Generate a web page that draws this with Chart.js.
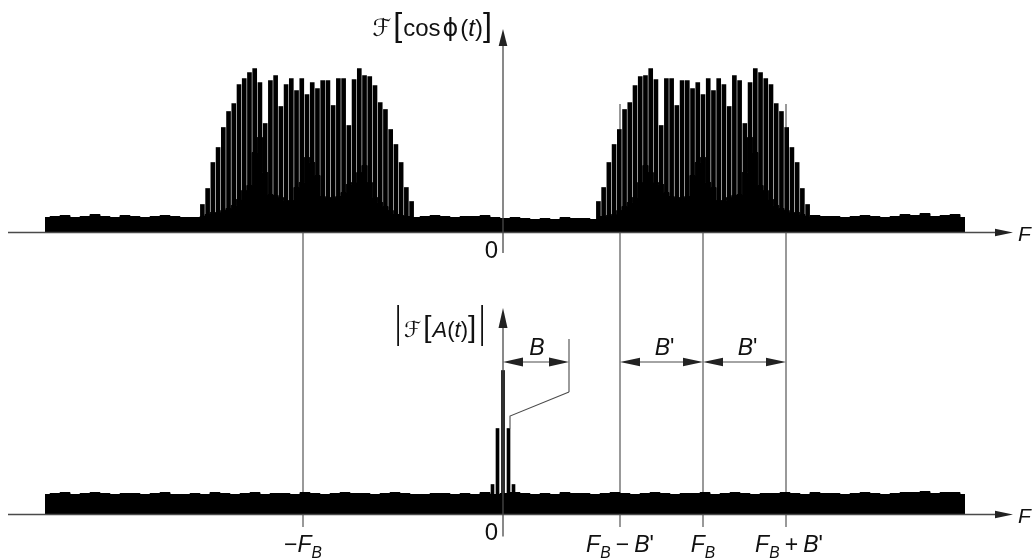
<!DOCTYPE html>
<html><head><meta charset="utf-8">
<script src="https://cdn.jsdelivr.net/npm/chart.js@4.4.1/dist/chart.umd.min.js"></script>
<style>
html,body{margin:0;padding:0;background:#fff;overflow:hidden;}
#wrap{position:relative;width:1034px;height:559px;}
canvas{position:absolute;left:0;}
#top{top:0;} #bot{top:262px;}
</style></head><body>
<div id="wrap"><canvas id="top" width="1034" height="262"></canvas><canvas id="bot" width="1034" height="297"></canvas></div>
<script>
// ---------- data ----------
const F_B = 100;          // carrier frequency
const B_PRIME = 41.5;     // half-width of the modulated band
const B_BASE = 33;        // baseband width of A(t)
const X_MIN = -251.5, X_MAX = 265.5;
const AXIS_FROM = -247.5, AXIS_TO = 255;

// positive-frequency lobe of |F[cos phi(t)]| (line spectrum), mirrored for negative frequencies
const lobeCenters = [-98, 100];
const spikeSpacing = 2.615;
const lobeHeights = [31,45,70,88,103,123,130,147,156,157,164,153,107,154,154,127,152,152,144,150,138,154,142,154,148,126,157,152,109,150,164,160,154,148,129,121,105,85,70,44,28];
const lobeFloor   = [16,16,17,18,22,26,30,35,50,67,60,50,48,40,36,35,35,36,57,70,75,50,45,32,32,35,37,38,60,95,80,47,42,33,27,24,22,20,20,18,16];

// noise floors
const noiseStart = -229, noiseStep = 5;
const topNoise = [15,16,17,15,16,18,16,15,17,16,15,16,17,16,15,15,16,18,16,15,16,17,15,16,16,15,17,16,15,16,
  17,16,16,15,17,18,16,15,16,17,16,15,16,16,17,15,14,15,14,13,14,13,15,14,14,13,14,15,16,15,
  16,17,16,15,16,16,17,15,16,17,16,15,16,16,17,16,15,17,16,16,15,16,17,16,15,16,18,17,19,16,17,18,15];
const botNoise = [20,21,22,20,21,22,21,20,21,21,20,21,22,20,20,21,20,22,21,20,21,22,20,21,21,20,22,21,20,21,
  22,21,21,20,21,22,21,20,20,21,21,20,21,20,22,20,21,22,21,20,21,20,22,21,21,20,21,22,21,20,
  21,22,21,20,21,21,22,20,21,22,21,20,21,21,22,21,20,22,21,21,20,21,22,21,20,21,22,22,23,21,22,22,20];

// baseband spectrum |F[A(t)]|
const basebandFreq = [-5.25, -2.75, 0, 2.75, 5.25];
const basebandHeights = [30, 86, 144, 86, 30];

// frequency markers and their tick labels
const markerValues = [-F_B, F_B - B_PRIME, F_B, F_B + B_PRIME];
const markerLabels = ['−F_B', "F_B − B'", 'F_B', "F_B + B'"];
const topTitle = 'ℱ[cosϕ(t)]';
const botTitle = '|ℱ[A(t)]|';

// ---------- helpers ----------
const INK = '#111', LINE = '#4a4a4a';
function mathTokens(ctx, str, size) {
  const toks = [];
  for (let i = 0; i < str.length; i++) {
    let ch = str[i], sub = false;
    if (ch === '_') { sub = true; ch = str[++i]; }
    let s = sub ? size * 0.68 : size;
    const italic = 'FBAt'.includes(ch);
    let family = '"Liberation Sans", "DejaVu Sans", sans-serif';
    let dy = sub ? size * 0.3 : 0, sy = 1, gap = 0, pre = 0;
    if (ch === 'ℱ') { family = '"DejaVu Sans"'; gap = 2; }
    if (ch === 'ϕ') { family = '"DejaVu Sans"'; gap = 2; pre = 2; }
    if (ch === '[' || ch === ']') { s = size * 1.35; gap = 1; }
    if (ch === '|') { sy = 2.0; gap = 3; pre = 2; }
    if (ch === ' ') { s = size * 0.8; }
    const font = (italic ? 'italic ' : '') + s.toFixed(1) + 'px ' + family;
    ctx.font = font;
    toks.push({ t: ch, font, dy, sy, pre, w: ctx.measureText(ch).width + gap + pre });
  }
  return toks;
}
function drawMath(ctx, str, x, y, size, align) {
  const toks = mathTokens(ctx, str, size);
  const total = toks.reduce((a, t) => a + t.w, 0);
  let cx = align === 'right' ? x - total : align === 'center' ? x - total / 2 : x;
  ctx.save();
  ctx.fillStyle = INK; ctx.textAlign = 'left'; ctx.textBaseline = 'alphabetic';
  toks.forEach(t => {
    ctx.font = t.font;
    if (t.sy !== 1) {
      ctx.save(); ctx.translate(cx + t.pre, y + t.dy); ctx.scale(1, t.sy);
      ctx.fillText(t.t, 0, 0); ctx.restore();
    } else {
      ctx.fillText(t.t, cx + t.pre, y + t.dy);
    }
    cx += t.w;
  });
  ctx.restore();
}
function seg(ctx, x1, y1, x2, y2) { ctx.beginPath(); ctx.moveTo(x1, y1); ctx.lineTo(x2, y2); ctx.stroke(); }
function arrow(ctx, tx, ty, dx, dy, len, half) {
  const bx = tx - dx * len, by = ty - dy * len;
  ctx.beginPath();
  ctx.moveTo(tx, ty);
  ctx.lineTo(bx - dy * half, by + dx * half);
  ctx.lineTo(bx + dy * half, by - dx * half);
  ctx.closePath(); ctx.fill();
}

// ---------- datasets ----------
const black = '#000';
function noiseData(arr) { return arr.map((h, i) => ({ x: noiseStart + i * noiseStep, y: h })); }
function lobeData(arr, c) {
  const sign = c < 0 ? -1 : 1;
  return arr.map((h, i) => ({ x: c + sign * (i - 20) * spikeSpacing, y: h }));
}
const lineDs = (data, stepped) => ({ type: 'line', data, borderColor: black, backgroundColor: black, borderWidth: 1,
  pointRadius: 0, fill: 'origin', tension: 0, stepped: stepped, order: 2 });

const topDatasets = [
  lineDs(noiseData(topNoise), 'middle'),
  ...lobeCenters.map(c => lineDs(lobeData(lobeFloor, c), 'middle')),
  { type: 'bar', data: lobeCenters.flatMap(c => lobeData(lobeHeights, c)), backgroundColor: black,
    borderWidth: 0, barThickness: 4, grouped: false, order: 1 }
];
const botDatasets = [
  lineDs(noiseData(botNoise), 'middle'),
  { type: 'bar', data: basebandFreq.map((f, i) => ({ x: f, y: basebandHeights[i] })), backgroundColor: black,
    borderWidth: 0, barThickness: 3, grouped: false, order: 1 }
];

function baseOptions(yMin, yMax) {
  return {
    responsive: false, animation: false, events: [],
    layout: { padding: 0 },
    plugins: { legend: { display: false }, tooltip: { enabled: false } },
    scales: {
      x: { type: 'linear', min: X_MIN, max: X_MAX, offset: false, display: false },
      y: { type: 'linear', min: yMin, max: yMax, display: false }
    }
  };
}

function drawAxis(ctx, x, base) {
  ctx.save();
  ctx.strokeStyle = LINE; ctx.fillStyle = '#222'; ctx.lineWidth = 1.3;
  const x0 = x.getPixelForValue(AXIS_FROM), x1 = x.getPixelForValue(AXIS_TO);
  seg(ctx, x0, base, x1 - 10, base);
  arrow(ctx, x1, base, 1, 0, 18, 3.8);
  ctx.restore();
  ctx.save(); ctx.fillStyle = INK; ctx.font = 'italic 21px "Liberation Sans", sans-serif';
  ctx.textAlign = 'left'; ctx.fillText('F', x1 + 5, base + 8); ctx.restore();
}

const topPlugin = {
  id: 'topAnno',
  beforeDatasetsDraw(chart) {
    const { ctx } = chart, x = chart.scales.x, y = chart.scales.y;
    const base = y.getPixelForValue(0);
    ctx.save(); ctx.strokeStyle = '#555'; ctx.lineWidth = 1.2;
    markerValues.forEach(v => { const px = x.getPixelForValue(v); seg(ctx, px, base - 128.5, px, chart.height); });
    ctx.restore();
  },
  afterDatasetsDraw(chart) {
    const { ctx } = chart, x = chart.scales.x, y = chart.scales.y;
    const base = y.getPixelForValue(0), x0 = x.getPixelForValue(0);
    drawAxis(ctx, x, base);
    ctx.save(); ctx.strokeStyle = LINE; ctx.fillStyle = '#222'; ctx.lineWidth = 1.3;
    seg(ctx, x0, base + 20.5, x0, base - 190);
    arrow(ctx, x0, base - 203.5, 0, -1, 17, 4.3);
    ctx.restore();
    drawMath(ctx, '0', x0 - 5, base + 25.5, 24, 'right');
    drawMath(ctx, topTitle, x0 - 10, base - 197, 24, 'right');
  }
};

const botPlugin = {
  id: 'botAnno',
  beforeDatasetsDraw(chart) {
    const { ctx } = chart, x = chart.scales.x, y = chart.scales.y;
    const base = y.getPixelForValue(0);
    ctx.save(); ctx.strokeStyle = '#555'; ctx.lineWidth = 1.2;
    markerValues.forEach(v => { const px = x.getPixelForValue(v); seg(ctx, px, 0, px, base + 12.5); });
    ctx.restore();
  },
  afterDatasetsDraw(chart) {
    const { ctx } = chart, x = chart.scales.x, y = chart.scales.y;
    const base = y.getPixelForValue(0), x0 = x.getPixelForValue(0);
    drawAxis(ctx, x, base);
    ctx.save(); ctx.strokeStyle = LINE; ctx.fillStyle = '#222'; ctx.lineWidth = 1.3;
    seg(ctx, x0, base + 22, x0, base - 190);
    arrow(ctx, x0, base - 206.5, 0, -1, 20, 4.5);
    const xb = x.getPixelForValue(B_BASE), ya = base - 152.5;
    ctx.lineWidth = 1.1;
    seg(ctx, xb, base - 175.5, xb, base - 122.5);
    const xs = x.getPixelForValue(basebandFreq[3]) + 1.5, ys = y.getPixelForValue(basebandHeights[3]);
    ctx.beginPath(); ctx.moveTo(xb, base - 122.5); ctx.lineTo(xs, base - 98.5); ctx.lineTo(xs, ys); ctx.stroke();
    seg(ctx, x0 + 10, ya, xb - 10, ya);
    arrow(ctx, x0, ya, -1, 0, 20, 4.5);
    arrow(ctx, xb, ya, 1, 0, 20, 4.5);
    const xl = x.getPixelForValue(F_B - B_PRIME), xc = x.getPixelForValue(F_B), xr = x.getPixelForValue(F_B + B_PRIME);
    [[xl, xc], [xc, xr]].forEach(([a, b]) => {
      seg(ctx, a + 10, ya, b - 10, ya);
      arrow(ctx, a, ya, -1, 0, 20, 4.3);
      arrow(ctx, b, ya, 1, 0, 20, 4.3);
      drawMath(ctx, "B'", (a + b) / 2 + 3, base - 160, 23, 'center');
    });
    ctx.restore();
    drawMath(ctx, 'B', (x0 + xb) / 2 + 1, base - 159.5, 23, 'center');
    drawMath(ctx, botTitle, x0 - 15, base - 178, 22, 'right');
    drawMath(ctx, '0', x0 - 5, base + 25.5, 24, 'right');
    markerValues.forEach((v, i) => drawMath(ctx, markerLabels[i], x.getPixelForValue(v) + (i === 3 ? 3 : 0), base + 37, 23, 'center'));
  }
};

new Chart(document.getElementById('top'), {
  type: 'bar', data: { datasets: topDatasets }, options: baseOptions(-29.5, 232.5), plugins: [topPlugin]
});
new Chart(document.getElementById('bot'), {
  type: 'bar', data: { datasets: botDatasets }, options: baseOptions(-44.5, 252.5), plugins: [botPlugin]
});
</script>
</body></html>
